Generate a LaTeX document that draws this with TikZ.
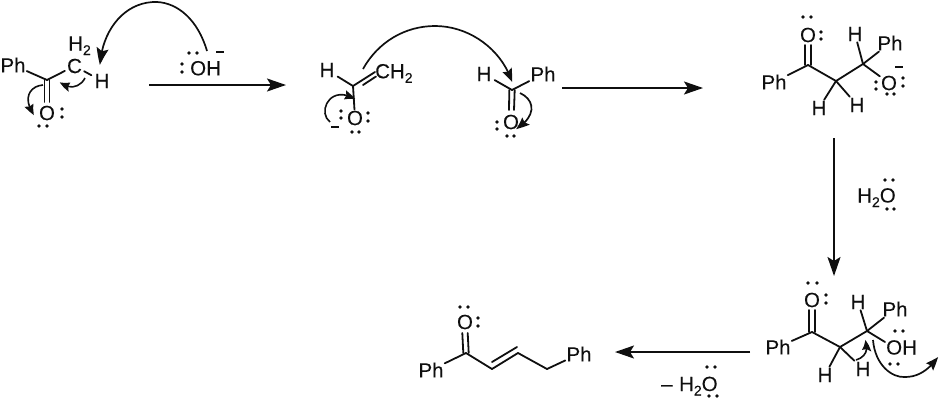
\documentclass[tikz,border=0pt]{standalone}
\usepackage{fontspec}
\setmainfont[FakeBold=0.2]{Liberation Sans}
\usetikzlibrary{arrows.meta,bending}
\newcommand{\subd}[1]{\raisebox{-4.5pt}{\fontsize{14}{15}\selectfont #1}}
\definecolor{ink}{gray}{0.06}
\tikzset{
  atom/.style={font=\fontsize{20.5}{22}\selectfont, text=ink, inner sep=1pt},
  atombase/.style={atom, anchor=base west, inner sep=0pt},
  bond/.style={draw=ink, line width=1.8pt, line cap=round},
  rxn/.style={draw=ink, line width=1.8pt, -{Stealth[length=19pt,width=13pt,inset=4pt]}},
  bigcurve/.style={draw=ink, line width=1.7pt, -{Stealth[length=17pt,width=12pt,inset=3pt,bend]}},
  smallcurve/.style={draw=ink, line width=1.6pt, -{Stealth[length=11pt,width=9pt,inset=1.5pt,bend]}},
  midcurve/.style={draw=ink, line width=1.7pt, -{Stealth[length=13pt,width=10pt,inset=2pt,bend]}},
  lp/.style={fill=ink},
  charge/.style={draw=ink, line width=1.7pt}
}
\newcommand{\lpairs}[1]{\foreach \px/\py in {#1}{\fill[lp] (\px,\py) circle (1.9);}}
\begin{document}
\begin{tikzpicture}[x=1pt,y=-1pt]
\useasboundingbox (0,0) rectangle (941,400);

% --- molecule 1
\node[atom] (aPh) at (13,65) {Ph};
\coordinate (aC) at (47,80);
\node[atom,inner sep=2pt] (aCH) at (74.5,66) {C};
\node[atombase] (aH2) at (68,50.5) {H\subd{2}};
\node[atom,inner sep=3pt] (aH) at (102,81) {H};
\node[atom] (aO) at (47,113) {O};
\draw[bond] (aPh) -- (aC);
\draw[bond] (aC) -- (aCH);
\draw[bond] (aCH) -- (aH);
\draw[bond] ([xshift=-2.5pt]aC) -- ([xshift=-2.5pt,yshift=11pt]aO.center);
\draw[bond] ([xshift=2.5pt]aC) -- ([xshift=2.5pt,yshift=11pt]aO.center);
\lpairs{62/109,62/117,39/126,47/126}
% hydroxide
\node[atombase] (aOH) at (190,75.3) {OH};
\lpairs{189/53,197/53,182/64,182/72}
\coordinate (aMa) at (216,52);
\coordinate (aMb) at (224,52);
\draw[charge] (aMa) -- (aMb);
\coordinate (aS) at (207,51);
\draw[bigcurve] (aS) .. controls (198,20) and (178,3) .. (157,2) .. controls (125,1) and (102,30) .. (100,65);
\coordinate (aS2) at (85,78);
\coordinate (aE2) at (60,82);
\draw[smallcurve] (aS2) .. controls (80,88) and (68,90) .. (aE2);
\coordinate (aS3) at (43,85);
\coordinate (aE3) at (34,115);
\draw[smallcurve] (aS3) .. controls (30,86) and (22,98) .. (aE3);
% arrow 1
\coordinate (r1a) at (149,85);
\coordinate (r1b) at (286,85);
\draw[rxn] (r1a) -- (r1b);

% --- molecule 2 (enolate)
\node[atom,inner sep=3pt] (bH) at (327,70) {H};
\coordinate (bC) at (353,86);
\node[atombase] (bCH) at (375,78.3) {CH\subd{2}};
\coordinate (bCHa) at (375,72);
\node[atom] (bO) at (355,118) {O};
\draw[bond] (bH) -- (bC);
\draw[bond] (bC) -- (bCHa);
\coordinate (bd1) at (363,85);
\coordinate (bd2) at (376,76.5);
\draw[bond] (bd1) -- (bd2);
\draw[bond] (bC) -- (bO);
\lpairs{341/111,341/118,368/113,368/121,352/132,359/132}
\coordinate (bMa) at (331,127);
\coordinate (bMb) at (339,127);
\draw[charge] (bMa) -- (bMb);
\coordinate (bS) at (330,122);
\coordinate (bE) at (355,99);
\draw[smallcurve] (bS) .. controls (317,112) and (330,84) .. (bE);
% aldehyde
\node[atom,inner sep=3pt] (cH) at (484,74) {H};
\coordinate (cC) at (512,90);
\node[atom] (cPh) at (543,74) {Ph};
\node[atom] (cO) at (511,122) {O};
\draw[bond] (cH) -- (cC);
\draw[bond] (cC) -- (cPh);
\draw[bond] ([xshift=-2.7pt]cC) -- ([xshift=-2pt,yshift=12pt]cO.center);
\draw[bond] ([xshift=2.7pt]cC) -- ([xshift=3pt,yshift=12pt]cO.center);
\lpairs{497/122,497/129,507/136,514/136}
\coordinate (cS) at (363,69);
\draw[midcurve] (cS) .. controls (378,42) and (405,26) .. (435,26) .. controls (470,26) and (502,50) .. (512,82);
\coordinate (cS2) at (520,93);
\coordinate (cE2) at (516,129);
\draw[midcurve] (cS2) .. controls (535,100) and (537,116) .. (cE2);
% arrow 2
\coordinate (r2a) at (562,88);
\coordinate (r2b) at (703,88);
\draw[rxn] (r2a) -- (r2b);

% --- molecule 3
\node[atom] (dO) at (808,35) {O};
\coordinate (dC1) at (808,65);
\node[atom] (dPh) at (774,82) {Ph};
\coordinate (dC2) at (836,81);
\coordinate (dC3) at (863,64);
\node[atom] (dH1) at (819,108) {H};
\node[atom] (dH2) at (857,105) {H};
\node[atom] (dH3) at (855,34) {H};
\node[atom] (dPh2) at (890,43) {Ph};
\node[atom] (dO2) at (889,83) {O};
\draw[bond] ([xshift=-2.7pt]dC1) -- ([xshift=-2.7pt,yshift=-10pt]dO.center);
\draw[bond] ([xshift=2.7pt]dC1) -- ([xshift=2.7pt,yshift=-10pt]dO.center);
\draw[bond] (dPh) -- (dC1);
\draw[bond] (dC1) -- (dC2);
\draw[bond] (dC2) -- (dC3);
\draw[bond] (dC2) -- (dH1);
\draw[bond] (dC2) -- (dH2);
\draw[bond] (dC3) -- (dH3);
\draw[bond] (dC3) -- (dPh2);
\draw[bond] (dC3) -- (dO2);
\lpairs{803/17,811/17,821/32,821/39,876/82,876/89,903/78,903/86,887/94,894/94}
\coordinate (dMa) at (895,67);
\coordinate (dMb) at (903,67);
\draw[charge] (dMa) -- (dMb);
% arrow 3
\coordinate (r3a) at (834,138);
\coordinate (r3b) at (834,276);
\draw[rxn] (r3a) -- (r3b);
\node[atombase] (wa) at (857,202.5) {H\subd{2}O};
\lpairs{885/180,893/180,887/209,894/209}

% --- molecule 4
\node[atom] (eO) at (812,300) {O};
\coordinate (eC1) at (812,332);
\node[atom] (ePh) at (778,347) {Ph};
\coordinate (eC2) at (840,347);
\coordinate (eC3) at (867,331);
\node[atom] (eH1) at (825,375) {H};
\node[atom] (eH2) at (863,369) {H};
\node[atom] (eH3) at (858,302) {H};
\node[atom] (ePh2) at (895,309) {Ph};
\node[atombase] (eOH) at (886,354.5) {OH};
\draw[bond] ([xshift=-2.7pt]eC1) -- ([xshift=-2.7pt,yshift=-10pt]eO.center);
\draw[bond] ([xshift=2.7pt]eC1) -- ([xshift=2.7pt,yshift=-10pt]eO.center);
\draw[bond] (ePh) -- (eC1);
\draw[bond] (eC1) -- (eC2);
\draw[bond] (eC2) -- (eC3);
\draw[bond] (eC2) -- (eH1);
\draw[bond] (eC2) -- (eH2);
\draw[bond] (eC3) -- (eH3);
\draw[bond] (eC3) -- (ePh2);
\coordinate (eOb) at (885,342);
\draw[bond] (eC3) -- (eOb);
\lpairs{808/283,817/283,826/295,826/303,895/331,903/331,890/364,898/364}
\coordinate (eS1) at (856,360);
\coordinate (eE1) at (865,340);
\draw[smallcurve] (eS1) .. controls (866,357) and (869,349) .. (eE1);
\coordinate (eS2) at (873,340);
\coordinate (eE2) at (938,357);
\draw[midcurve] (eS2) .. controls (875,365) and (892,378) .. (905,377) .. controls (920,377) and (930,368) .. (eE2);
% arrow 4
\coordinate (r4a) at (750,352);
\coordinate (r4b) at (615,352);
\draw[rxn] (r4a) -- (r4b);
\node[atombase] (wb) at (661,391) {–\hspace{6.5pt}H\subd{2}O};
\lpairs{707/367,715/367,709/396,717/396}

% --- molecule 5
\node[atom] (fO) at (465,322) {O};
\coordinate (fC1) at (466,353);
\node[atom] (fPh) at (431,370) {Ph};
\coordinate (fC2) at (492,369);
\coordinate (fC3) at (518,353);
\coordinate (fC4) at (547,369);
\node[atom] (fPh2) at (579,354) {Ph};
\draw[bond] ([xshift=-2.7pt]fC1) -- ([xshift=-2.7pt,yshift=-11pt]fO.center);
\draw[bond] ([xshift=2.7pt]fC1) -- ([xshift=2.7pt,yshift=-11pt]fO.center);
\draw[bond] (fPh) -- (fC1);
\draw[bond] (fC1) -- (fC2);
\draw[bond] (fC2) -- (fC3);
\coordinate (fd1) at (492,362);
\coordinate (fd2) at (517,347);
\draw[bond] (fd1) -- (fd2);
\draw[bond] (fC3) -- (fC4);
\draw[bond] (fC4) -- (fPh2);
\lpairs{460/307,468/307,478/318,478/326}
\end{tikzpicture}
\end{document}
